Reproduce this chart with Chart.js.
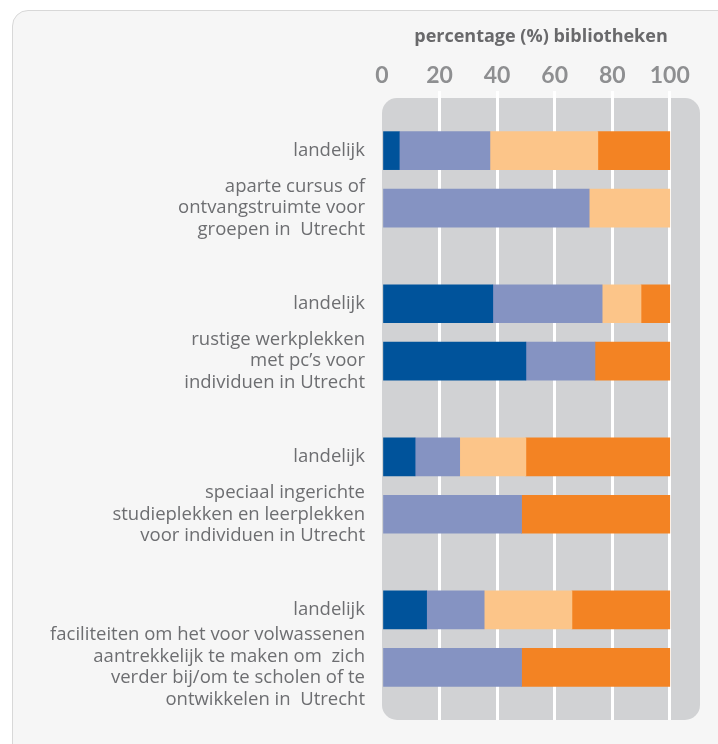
<!DOCTYPE html>
<html>
<head>
<meta charset="utf-8">
<script src="https://cdn.jsdelivr.net/npm/chart.js@4"></script>
<style>
  html, body { margin: 0; padding: 0; background: #ffffff; overflow: hidden; }
  .frame {
    position: absolute; left: 12px; top: 10px; width: 740px; height: 780px;
    border: 1.5px solid #d8d8d8; border-radius: 16px; background: #f6f6f6;
  }
  .wrap { position: absolute; left: 0; top: 0; width: 718px; height: 744px; }
</style>
</head>
<body>
<div class="frame"></div>
<div class="wrap"><canvas id="chart" width="718" height="744"></canvas></div>
<script>
// rows, top to bottom
const categories = [
  'landelijk',
  ['aparte cursus of', 'ontvangstruimte voor', 'groepen in  Utrecht'],
  'landelijk',
  ['rustige werkplekken', 'met pc\u2019s voor', 'individuen in Utrecht'],
  'landelijk',
  ['speciaal ingerichte', 'studieplekken en leerplekken', 'voor individuen in Utrecht'],
  'landelijk',
  ['faciliteiten om het voor volwassenen', 'aantrekkelijk te maken om  zich', 'verder bij/om te scholen of te', 'ontwikkelen in  Utrecht']
];

// percentage per row for each stacked segment
const darkBlue    = [6,    0,  38.5, 50, 11.5, 0,    15.5, 0];
const purple      = [31.5, 72, 38,   24, 15.5, 48.5, 20,   48.5];
const lightOrange = [37.5, 28, 13.5, 0,  23,   0,    30.5, 0];
const orange      = [25,   0,  10,   26, 50,   51.5, 34,   51.5];

const xTicks = [0, 20, 40, 60, 80, 100];

// spread the rows over a finer category grid so pairs sit close together
const SLOTS = 65;
const rowSlot = categories.map((c, i) => 5 + 16 * Math.floor(i / 2) + 6 * (i % 2));

const slotLabels = new Array(SLOTS).fill('');
rowSlot.forEach((s, i) => { slotLabels[s] = categories[i]; });

function spread(values) {
  const out = new Array(SLOTS).fill(null);
  rowSlot.forEach((s, i) => { out[s] = values[i] || null; });
  return out;
}

const panel = {
  id: 'panel',
  beforeDraw(chart) {
    const { ctx, chartArea: a } = chart;
    ctx.save();
    ctx.fillStyle = '#d1d2d4';
    ctx.beginPath();
    ctx.roundRect(a.left, a.top, a.right - a.left, a.bottom - a.top, 15);
    ctx.fill();
    ctx.restore();
  }
};

const series = [
  { label: 'a', data: darkBlue, color: '#00539b' },
  { label: 'b', data: purple, color: '#8593c2' },
  { label: 'c', data: lightOrange, color: '#fcc589' },
  { label: 'd', data: orange, color: '#f38323' }
];

const gridColor = ctx => (ctx.tick && ctx.tick.value === 0 ? 'rgba(0,0,0,0)' : '#ffffff');

new Chart(document.getElementById('chart'), {
  type: 'bar',
  data: {
    labels: slotLabels,
    datasets: series.map(s => ({
      label: s.label,
      data: spread(s.data),
      backgroundColor: s.color,
      borderWidth: 0,
      barThickness: 38
    }))
  },
  options: {
    indexAxis: 'y',
    responsive: false,
    animation: false,
    layout: { padding: { top: 0, right: 18, bottom: 24, left: 0 } },
    plugins: { legend: { display: false }, tooltip: { enabled: false } },
    scales: {
      x: {
        position: 'top',
        stacked: true,
        min: 0,
        max: 110.5,
        z: 1,
        afterBuildTicks(scale) { scale.ticks = xTicks.map(v => ({ value: v })); },
        afterFit(scale) { scale.height = 98; },
        grid: { color: gridColor, tickColor: gridColor, lineWidth: 3, tickLength: 7 },
        border: { display: false },
        ticks: {
          color: '#8e8f91',
          padding: 2,
          font: { family: 'Lato', size: 23, weight: 'bold' }
        },
        title: {
          display: true,
          text: 'percentage (%) bibliotheken',
          color: '#69696b',
          padding: { top: 26, bottom: 0 },
          font: { family: 'Open Sans', size: 18, weight: 'bold' }
        }
      },
      y: {
        stacked: true,
        afterFit(scale) { scale.width = 382; },
        grid: { display: false },
        border: { display: false },
        ticks: {
          autoSkip: false,
          color: '#6d6e71',
          padding: 9,
          font: { family: 'Open Sans', size: 18.5, lineHeight: 1.16 }
        }
      }
    }
  },
  plugins: [panel]
});
</script>
</body>
</html>
